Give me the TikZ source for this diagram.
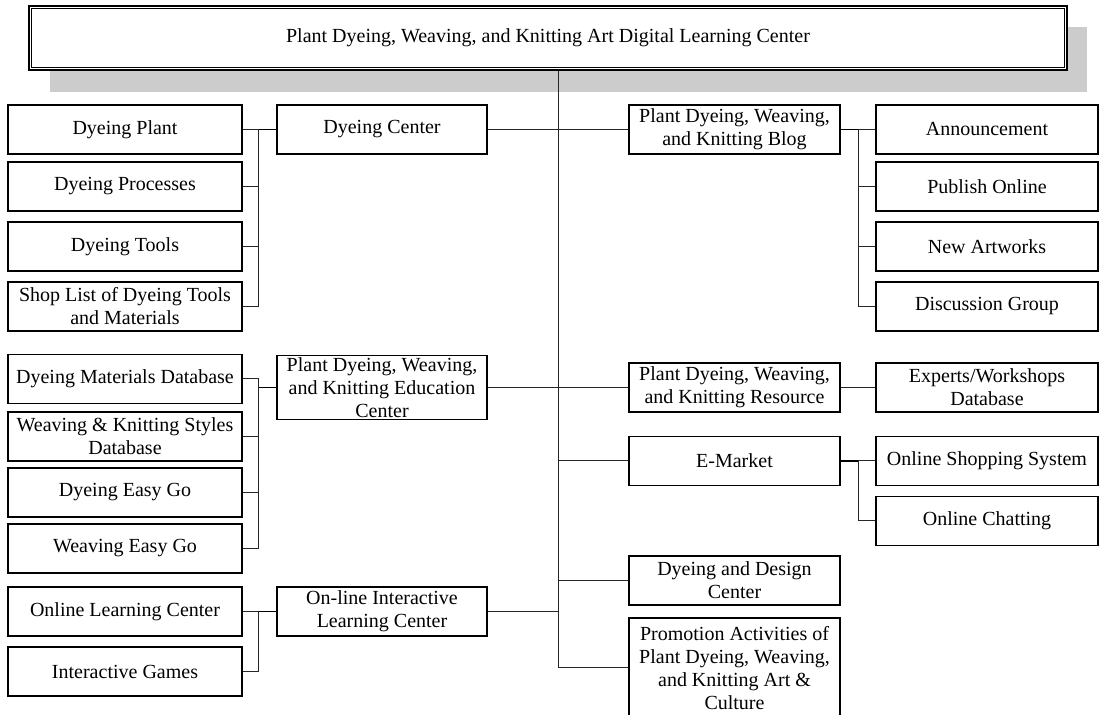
\documentclass[tikz,border=0pt]{standalone}
\usepackage{fontspec}
\setmainfont{Liberation Serif}

\begin{document}
\begin{tikzpicture}[x=0.5pt,y=-0.5pt]
	\tikzstyle{every node}=[font=\fontsize{10}{11.5}\selectfont, align=center, inner sep=1pt]
	\tikzstyle{box}=[draw, fill=white, line width=0.65pt, minimum height=24.5pt]
	\tikzstyle{lbox}=[box, minimum width=117pt]
	\tikzstyle{mbox}=[box, minimum width=105pt]
	\tikzstyle{rbox}=[box, minimum width=111pt]
	\tikzstyle{link}=[line width=0.5pt, black!85]
	\tikzstyle{plink}=[line width=0.9pt]
	\useasboundingbox (0,0) rectangle (1100,715);

	% title with its shadow
	\fill[black!20] (50,27) rectangle (1087,92);
	\draw (548,38) node (top) [draw, fill=white, line width=1.2pt, minimum width=519pt, minimum height=32pt] {Plant Dyeing, Weaving, and Knitting Art Digital Learning Center};
	\draw[line width=0.6pt] ([shift={(4,4)}]top.north west) rectangle ([shift={(-4,-4)}]top.south east);

	\coordinate (trunk) at (558,0);
	\coordinate (lbus) at (258,0);
	\coordinate (rbus) at (858,0);

	% left side
	\draw (125,129.5) node (dplant) [lbox] {Dyeing Plant};
	\draw (125,186.5) node (dproc) [lbox] {Dyeing Processes};
	\draw (125,246.5) node (dtool) [lbox] {Dyeing Tools};
	\draw (125,306.5) node (dshop) [lbox] {Shop List of Dyeing Tools\\and Materials};
	\draw (125,379) node (dmat) [lbox] {Dyeing Materials Database};
	\draw (125,436.5) node (wstyle) [lbox] {Weaving \& Knitting Styles\\Database};
	\draw (125,492.5) node (deasy) [lbox] {Dyeing Easy Go};
	\draw (125,548.5) node (weasy) [lbox] {Weaving Easy Go};
	\draw (125,611.5) node (olearn) [lbox] {Online Learning Center};
	\draw (125,671.5) node (games) [lbox] {Interactive Games};

	\draw (382,129.5) node (dcenter) [mbox] {Dyeing Center};
	\draw (382,387.5) node (educ) [mbox] {Plant Dyeing, Weaving,\\and Knitting Education\\Center};
	\draw (382,611.5) node (interact) [mbox] {On-line Interactive\\Learning Center};

	% right side
	\draw (734.5,129.5) node (blog) [mbox, minimum width=105.5pt] {Plant Dyeing, Weaving,\\and Knitting Blog};
	\draw (734.5,387.5) node (resrc) [mbox, minimum width=105.5pt] {Plant Dyeing, Weaving,\\and Knitting Resource};
	\draw (734.5,461) node (emarket) [mbox, minimum width=105.5pt] {E-Market};
	\draw (734.5,580.5) node (design) [mbox, minimum width=105.5pt] {Dyeing and Design\\Center};
	\draw (734.5,668) node (promo) [mbox, minimum width=105.5pt, minimum height=50pt] {Promotion Activities of\\Plant Dyeing, Weaving,\\and Knitting Art \&\\Culture};

	\draw (987,129.5) node (announce) [rbox] {Announcement};
	\draw (987,186.5) node (publish) [rbox] {Publish Online};
	\draw (987,246.5) node (artwork) [rbox] {New Artworks};
	\draw (987,306.5) node (discuss) [rbox] {Discussion Group};
	\draw (987,387.5) node (expert) [rbox] {Experts/Workshops\\Database};
	\draw (987,461) node (shopsys) [rbox] {Online Shopping System};
	\draw (987,521) node (chat) [rbox] {Online Chatting};

	% main trunk
	\draw[link] (top.south -| trunk) -- (trunk |- promo.west);
	\draw[link] (dcenter.east) -- (blog.west);
	\draw[link] (educ.east) -- (resrc.west);
	\draw[link] (interact.east) -- (trunk |- interact.east);
	\draw[link] (trunk |- emarket.west) -- (emarket.west);
	\draw[link] (trunk |- design.west) -- (design.west);
	\draw[link] (trunk |- promo.west) -- (promo.west);

	% dyeing center group
	\draw[plink] (dcenter.west) -- (lbus |- dcenter.west);
	\draw[link] (dplant.east) -- (lbus |- dplant.east) -- (lbus |- dshop.east) -- (dshop.east);
	\draw[link] (dproc.east) -- (lbus |- dproc.east);
	\draw[link] (dtool.east) -- (lbus |- dtool.east);

	% education group
	\draw[plink] (educ.west) -- (lbus |- educ.west);
	\draw[link] (dmat.east) -- (lbus |- dmat.east) -- (lbus |- weasy.east) -- (weasy.east);
	\draw[link] (wstyle.east) -- (lbus |- wstyle.east);
	\draw[link] (deasy.east) -- (lbus |- deasy.east);

	% interactive group
	\draw[plink] (interact.west) -- (lbus |- interact.west);
	\draw[link] (olearn.east) -- (lbus |- olearn.east) -- (lbus |- games.east) -- (games.east);

	% blog group
	\draw[plink] (blog.east) -- (rbus |- blog.east);
	\draw[link] (announce.west) -- (rbus |- announce.west) -- (rbus |- discuss.west) -- (discuss.west);
	\draw[link] (publish.west) -- (rbus |- publish.west);
	\draw[link] (artwork.west) -- (rbus |- artwork.west);

	% resource and market
	\draw[link] (resrc.east) -- (expert.west);
	\draw[plink] (emarket.east) -- (rbus |- emarket.east);
	\draw[link] (shopsys.west) -- (rbus |- shopsys.west) -- (rbus |- chat.west) -- (chat.west);
\end{tikzpicture}
\end{document}
